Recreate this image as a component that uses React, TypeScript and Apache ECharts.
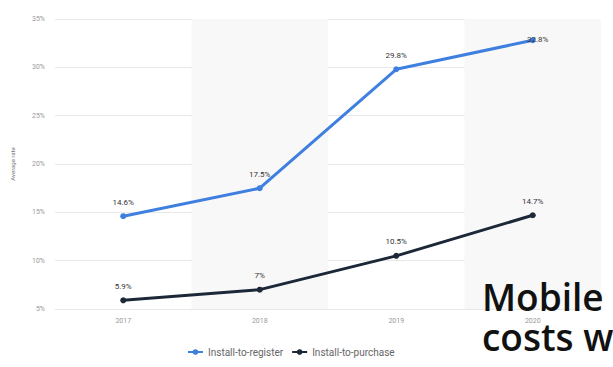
import React, { useEffect, useRef } from "react";
import * as echarts from "echarts";

const years = ["2017", "2018", "2019", "2020"];
const installToRegister = [14.6, 17.5, 29.8, 32.8];
const installToPurchase = [5.9, 7, 10.5, 14.7];
const registerLabels = ["14.6%", "17.5%", "29.8%", "32.8%"];
const purchaseLabels = ["5.9%", "7%", "10.5%", "14.7%"];

export default function App() {
  const ref = useRef<HTMLDivElement>(null);
  useEffect(() => {
    if (!ref.current) return;
    const chart = echarts.init(ref.current, null, { renderer: "svg" });
    const labelStyle = { fontSize: 8, color: "#333", fontFamily: "Roboto" };
    chart.setOption({
      animation: false,
      backgroundColor: "#fff",
      grid: { left: 55, right: 12, top: 19, bottom: 58 },
      legend: {
        bottom: 5,
        left: 182,
        itemWidth: 15,
        itemHeight: 7,
        itemGap: 8,
        textStyle: { fontSize: 10, color: "#666", fontFamily: "Roboto" },
        data: ["Install-to-register", "Install-to-purchase"],
      },
      xAxis: {
        type: "category",
        data: years,
        boundaryGap: true,
        axisLine: { show: false },
        axisTick: { show: false },
        axisLabel: { fontSize: 7, color: "#999", margin: 8, fontFamily: "Roboto" },
        splitArea: { show: true, areaStyle: { color: ["rgba(255,255,255,0)", "#f8f8f8"] } },
      },
      yAxis: {
        type: "value",
        min: 5,
        max: 35,
        interval: 5,
        name: "Average rate",
        nameLocation: "middle",
        nameGap: 40,
        nameTextStyle: { fontSize: 6, color: "#777", fontFamily: "Roboto" },
        axisLine: { show: false },
        axisTick: { show: false },
        axisLabel: { formatter: "{value}%", fontSize: 7, color: "#999", margin: 10, fontFamily: "Roboto" },
        splitLine: { lineStyle: { color: "#e8e8e8", width: 1 } },
      },
      series: [
        {
          name: "Install-to-register",
          type: "line",
          data: installToRegister,
          color: "#3f7fe0",
          lineStyle: { width: 3, color: "#3f7fe0" },
          symbol: "circle",
          symbolSize: 6,
          label: {
            show: true,
            formatter: (p: any) => registerLabels[p.dataIndex],
            ...labelStyle,
            position: "top",
            distance: 7,
          },
          labelLayout: (p: any) =>
            p.dataIndex === 3 ? { dx: 5, dy: 13 } : {},
        },
        {
          name: "Install-to-purchase",
          type: "line",
          data: installToPurchase,
          color: "#1c2838",
          lineStyle: { width: 3, color: "#1c2838" },
          symbol: "circle",
          symbolSize: 6,
          label: {
            show: true,
            formatter: (p: any) => purchaseLabels[p.dataIndex],
            ...labelStyle,
            position: "top",
            distance: 7,
          },
        },
      ],
      graphic: [
        {
          type: "text",
          left: 482,
          top: 278,
          z: 100,
          style: {
            text: "Mobile",
            font: "600 37px 'Open Sans'",
            fill: "#111",
          },
        },
        {
          type: "text",
          left: 482,
          top: 318,
          z: 100,
          style: {
            text: "costs w",
            font: "600 37px 'Open Sans'",
            fill: "#111",
          },
        },
      ],
    });
    return () => chart.dispose();
  }, []);
  return <div ref={ref} style={{ width: 613, height: 367, position: "absolute", left: 0, top: 0 }} />;
}
